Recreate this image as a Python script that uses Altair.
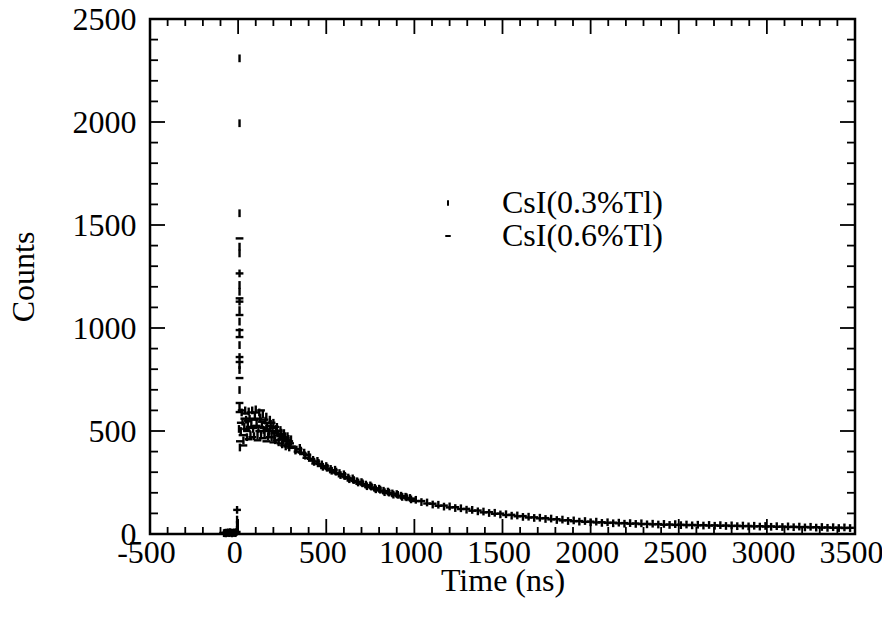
import altair as alt
import pandas as pd

SERIES = ["CsI(0.3%Tl)", "CsI(0.6%Tl)"]

# ---- series CsI(0.3%Tl) (vertical tick markers) ----
a_blob_t = [-80, -75, -70, -65, -60, -55, -50, -45, -40, -35, -30, -25, -20, -15, -10, -6, -6, -6, -6]
a_blob_v = [4, 6, 3, 7, 5, 8, 4, 9, 6, 3, 7, 5, 8, 4, 9, 20, 45, 70, 117]
a_spike_t = [8] * 18
a_spike_v = [2309, 1994, 1557, 1395, 1362, 1265, 1209, 1176, 1128, 1087,
             1031, 980, 917, 859, 820, 796, 699, 616]
a_early_t = list(range(10, 301, 10))
a_early_v = [420, 590, 455, 600, 470, 595, 480, 600, 475, 605,
             480, 590, 485, 580, 480, 570, 475, 555, 470, 540,
             455, 520, 445, 505, 435, 490, 425, 475, 420, 460]
a_early2_t = list(range(5, 296, 10))
a_early2_v = [510, 500, 545, 520, 555, 530, 560, 535, 510, 570,
              540, 510, 565, 530, 505, 550, 525, 495, 535, 505,
              480, 510, 488, 470, 492, 460, 475, 450, 462, 438]
a_mid_t = list(range(325, 1000, 25))
a_mid_v = [405, 418, 395, 385, 360, 355, 338, 330, 316, 312,
           296, 290, 274, 270, 256, 252, 240, 236, 224, 220,
           210, 206, 197, 194, 186, 181, 175]
a_mid2_t = list(range(331, 1000, 25))
a_mid2_v = [410, 405, 380, 372, 350, 345, 326, 322, 307, 303,
            286, 282, 266, 262, 250, 246, 232, 230, 217, 215,
            203, 201, 191, 190, 180, 178, 168]
a_late_t = list(range(1008, 3500, 32))
a_late_v = [166, 155, 153, 143, 142, 133, 134, 126, 125, 118,
            117, 110, 109, 102, 103, 95, 96, 89, 90, 83,
            84, 78, 79, 73, 75, 68, 70, 63, 66, 60,
            63, 57, 60, 54, 57, 52, 55, 50, 53, 49,
            52, 47, 50, 46, 49, 44, 48, 43, 46, 42,
            45, 41, 44, 40, 43, 39, 42, 38, 41, 37,
            40, 36, 39, 35, 38, 34, 37, 33, 36, 32,
            35, 31, 34, 30, 33, 29, 32, 29]

# ---- series CsI(0.6%Tl) (horizontal dash markers) ----
b_blob_t = [-85, -77, -72, -67, -62, -57, -52, -47, -42, -37, -32, -27, -22, -17, -12, -8, -6]
b_blob_v = [5, 3, 6, 4, 8, 5, 7, 6, 4, 8, 3, 6, 5, 7, 4, 10, 117]
b_spike_t = [8] * 12
b_spike_v = [1435, 1265, 1144, 1128, 1063, 990, 956, 859, 835, 757, 636, 592]
b_early_t = list(range(15, 306, 10))
b_early_v = [540, 480, 560, 510, 550, 520, 560, 515, 555, 525,
             560, 520, 545, 515, 540, 505, 525, 500, 515, 490,
             500, 478, 485, 462, 470, 450, 455, 436, 440, 425]
b_early2_t = list(range(10, 301, 10))
b_early2_v = [450, 600, 430, 585, 500, 460, 590, 470, 520, 590,
              455, 500, 600, 465, 555, 450, 500, 470, 540, 445,
              520, 455, 500, 440, 480, 430, 465, 425, 450, 418]
b_mid_t = list(range(337, 1000, 25))
b_mid_v = [400, 395, 370, 365, 342, 340, 320, 318, 300, 296,
           280, 276, 260, 258, 244, 242, 228, 226, 213, 211,
           200, 198, 188, 186, 176, 175, 166]
b_mid2_t = list(range(343, 1000, 25))
b_mid2_v = [412, 388, 384, 356, 352, 330, 330, 310, 310, 291,
            290, 270, 270, 252, 253, 236, 237, 220, 222, 206,
            208, 194, 196, 182, 184, 171, 172]
b_late_t = list(range(1008, 3500, 32))
b_late_v = [160, 160, 148, 147, 137, 138, 129, 130, 121, 122,
            113, 114, 105, 106, 98, 99, 92, 93, 86, 87,
            80, 81, 76, 77, 71, 72, 66, 67, 62, 63,
            59, 60, 56, 57, 54, 55, 52, 53, 50, 51,
            48, 49, 47, 48, 45, 46, 44, 45, 43, 44,
            42, 43, 41, 42, 40, 41, 39, 40, 38, 39,
            37, 38, 36, 37, 35, 36, 34, 35, 33, 34,
            32, 33, 31, 32, 30, 31, 29, 30]

# ---- axis ticks ----
x_major = [-500, 0, 500, 1000, 1500, 2000, 2500, 3000, 3500]
x_minor = [t for t in range(-500, 3501, 100) if t % 500 != 0]
y_major = [0, 500, 1000, 1500, 2000, 2500]
y_minor = [v for v in range(0, 2501, 100) if v % 500 != 0]

W, H = 705, 515
FONT = "Liberation Serif"
FS = 32

ta = a_blob_t + a_spike_t + a_early_t + a_early2_t + a_mid_t + a_mid2_t + a_late_t
va = a_blob_v + a_spike_v + a_early_v + a_early2_v + a_mid_v + a_mid2_v + a_late_v
tb = b_blob_t + b_spike_t + b_early_t + b_early2_t + b_mid_t + b_mid2_t + b_late_t
vb = b_blob_v + b_spike_v + b_early_v + b_early2_v + b_mid_v + b_mid2_v + b_late_v
df = pd.DataFrame({
    "t": ta + tb,
    "v": va + vb,
    "series": [SERIES[0]] * len(ta) + [SERIES[1]] * len(tb),
})

xscale = alt.Scale(domain=[-500, 3500], nice=False, zero=False)
yscale = alt.Scale(domain=[0, 2500], nice=False)

xaxis = alt.Axis(
    values=x_major, ticks=False, tickSize=0, domain=False, grid=False,
    labelFont=FONT, labelFontSize=FS, labelColor="black", labelPadding=3,
    labelOffset=-4,
    labelExpr="(datum.value < 0 ? '-' : '') + abs(datum.value)",
    title="Time (ns)", titleFont=FONT, titleFontSize=FS, titleFontWeight="normal",
    titleColor="black", titlePadding=-3, labelFlush=False, labelOverlap=False,
)
yaxis = alt.Axis(
    values=y_major, ticks=False, tickSize=0, domain=False, grid=False,
    labelFont=FONT, labelFontSize=FS, labelColor="black", labelPadding=14,
    format="d", title="Counts", titleFont=FONT, titleFontSize=FS,
    titleFontWeight="normal", titleColor="black", titlePadding=32,
    labelFlush=False, labelOverlap=False,
)

points = alt.Chart(df).mark_point(filled=False, strokeWidth=2.4, size=60, opacity=1, color="black").encode(
    x=alt.X("t:Q", scale=xscale, axis=xaxis),
    y=alt.Y("v:Q", scale=yscale, axis=yaxis),
    shape=alt.Shape(
        "series:N",
        scale=alt.Scale(domain=SERIES, range=["M0,-1L0,1", "M-1,0L1,0"]),
        legend=alt.Legend(
            orient="none", legendX=282, legendY=168, title=None,
            labelFont=FONT, labelFontSize=FS, labelColor="black", labelLimit=400,
            symbolStrokeColor="black", symbolStrokeWidth=2, symbolSize=30,
            labelOffset=38, rowPadding=1, padding=0,
        ),
    ),
)

def xticks(vals, length, top):
    d = pd.DataFrame({"t": vals})
    if top:
        yy, yy2 = 0, length
    else:
        yy, yy2 = H, H - length
    return alt.Chart(d).mark_rule(color="black", strokeWidth=1.8).encode(
        x=alt.X("t:Q", scale=xscale), y=alt.value(yy), y2=alt.value(yy2))

def yticks(vals, length, right):
    d = pd.DataFrame({"v": vals})
    if right:
        xx, xx2 = W, W - length
    else:
        xx, xx2 = 0, length
    return alt.Chart(d).mark_rule(color="black", strokeWidth=1.8).encode(
        y=alt.Y("v:Q", scale=yscale), x=alt.value(xx), x2=alt.value(xx2))

chart = alt.layer(
    points,
    xticks(x_major, 15, False), xticks(x_minor, 7, False),
    xticks(x_major, 15, True), xticks(x_minor, 7, True),
    yticks(y_major, 15, False), yticks(y_minor, 8, False),
    yticks(y_major, 15, True), yticks(y_minor, 8, True),
).properties(
    width=W, height=H,
    autosize=alt.AutoSizeParams(type="none"),
    padding={"left": 142, "top": 11, "right": 27, "bottom": 84},
    background="white",
).configure_view(stroke="black", strokeWidth=2.5)

chart.save("out.html", embed_options={"renderer": "svg", "actions": False})
